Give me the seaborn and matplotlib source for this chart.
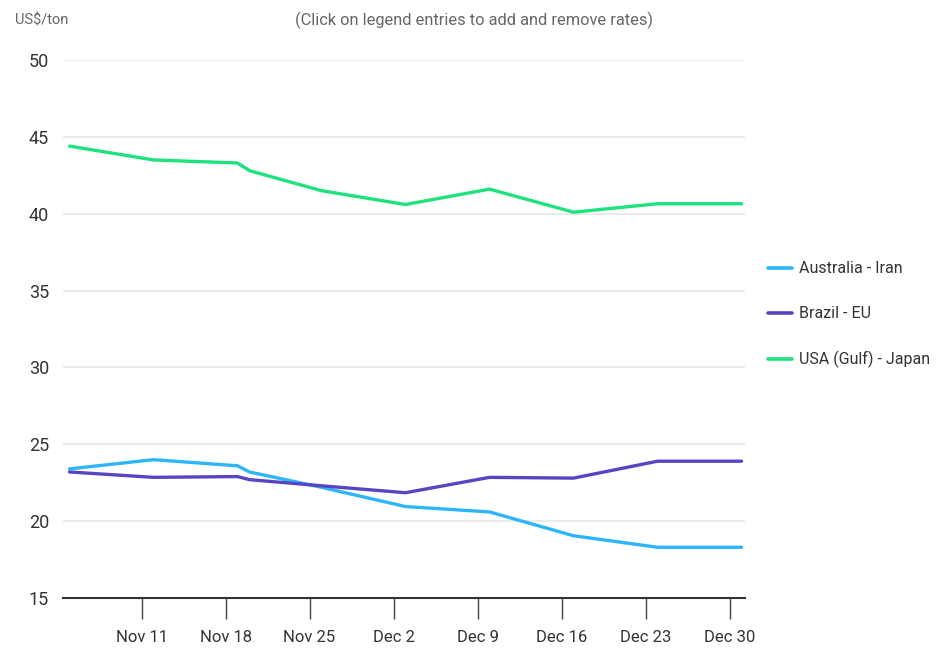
import matplotlib
matplotlib.use("Agg")
import matplotlib.pyplot as plt
import matplotlib.dates as mdates
import seaborn as sns
import pandas as pd
import numpy as np
from matplotlib.lines import Line2D

dates = ["2023-11-05", "2023-11-12", "2023-11-19", "2023-11-20", "2023-11-26",
         "2023-12-03", "2023-12-10", "2023-12-17", "2023-12-24", "2023-12-31"]
australia_iran = [23.4, 24.0, 23.6, 23.2, 22.2, 20.95, 20.6, 19.05, 18.3, 18.3]
brazil_eu = [23.2, 22.85, 22.9, 22.7, 22.3, 21.85, 22.85, 22.8, 23.9, 23.9]
usa_japan = [44.4, 43.5, 43.3, 42.8, 41.5, 40.6, 41.6, 40.1, 40.65, 40.65]
series_names = ["Australia - Iran", "Brazil - EU", "USA (Gulf) - Japan"]
colors = ["#2db5f7", "#5646c4", "#1ee27c"]
yticks = [15, 20, 25, 30, 35, 40, 45, 50]
xtick_dates = ["2023-11-11", "2023-11-18", "2023-11-25", "2023-12-02",
               "2023-12-09", "2023-12-16", "2023-12-23", "2023-12-30"]

rows = []
for name, vals in zip(series_names, [australia_iran, brazil_eu, usa_japan]):
    for d, v in zip(dates, vals):
        rows.append({"date": pd.Timestamp(d), "value": v, "route": name})
df = pd.DataFrame(rows)

sns.set_theme(style="white")
plt.rcParams['font.family'] = ['Roboto', 'DejaVu Sans']

fig = plt.figure(figsize=(9.42, 6.51), dpi=100)
ax = fig.add_axes([0.0669, 0.0814, 0.7240, 0.8264])

sns.lineplot(data=df, x="date", y="value", hue="route", palette=colors,
             hue_order=series_names, linewidth=2.4, ax=ax, legend=False)

ax.set_ylim(15, 50)
ax.set_xlim(pd.Timestamp("2023-11-04 11:00"), pd.Timestamp("2023-12-31 07:00"))
ax.set_yticks(yticks)
ax.set_yticklabels([str(t) for t in yticks], fontsize=13, color="#333333")
ax.set_xticks([pd.Timestamp(d) for d in xtick_dates])
ax.xaxis.set_major_formatter(mdates.DateFormatter("%b %-d"))
ax.tick_params(axis="x", bottom=True, labelsize=12, labelcolor="#333333",
               color="#444444", length=15, width=1, direction="out", pad=8)
ax.tick_params(axis="y", left=False, length=0, pad=10)
ax.yaxis.grid(True, color="#e6e6e6", linewidth=1.2)
ax.xaxis.grid(False)
for s in ["top", "right", "left"]:
    ax.spines[s].set_visible(False)
ax.spines["bottom"].set_color("#333333")
ax.spines["bottom"].set_linewidth(1.5)
ax.spines["bottom"].set_zorder(5)
ax.set_xlabel("")
ax.set_ylabel("")

fig.text(0.016, 0.968, "US$/ton", fontsize=10.5, color="#666666", ha="left", va="center")
fig.text(0.503, 0.968, "(Click on legend entries to add and remove rates)",
         fontsize=11.8, color="#666666", ha="center", va="center")

handles = [Line2D([0], [0], color=c, linewidth=2.6) for c in colors]
fig.legend(handles, series_names, loc="upper left", bbox_to_anchor=(0.8, 0.621),
           frameon=False, fontsize=11.5, handlelength=1.5, handletextpad=0.45,
           labelspacing=1.88, labelcolor="#333333")

fig.savefig("out.png", dpi=100)
